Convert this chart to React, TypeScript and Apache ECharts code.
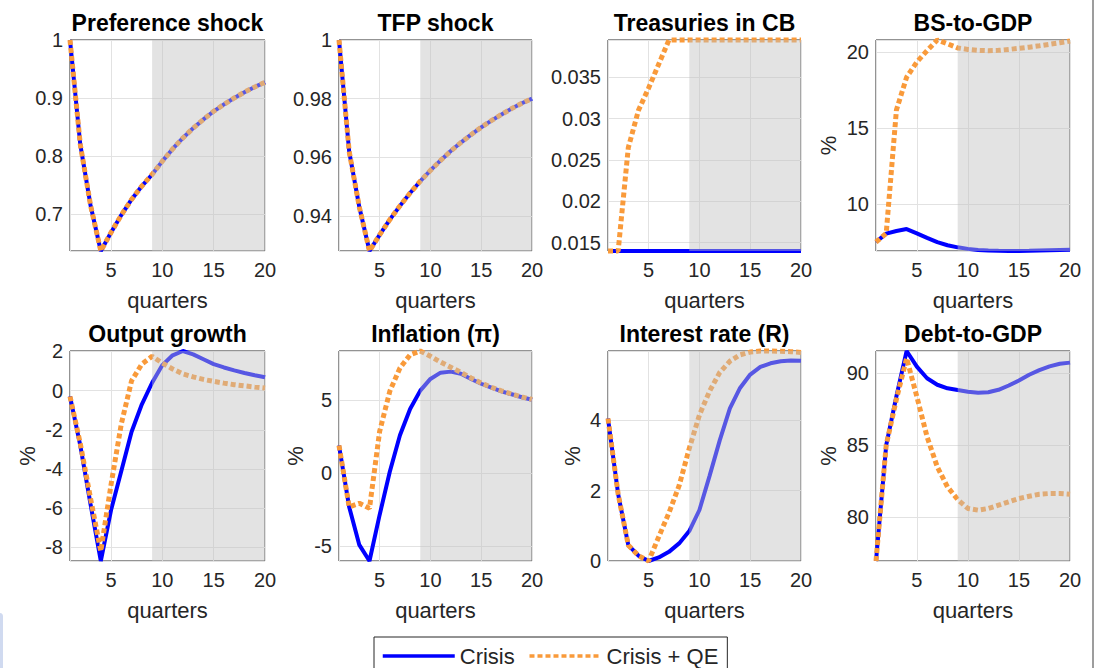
import React, { useEffect, useRef } from "react";
import * as echarts from "echarts";

// Horizon (quarters after the shock)
const quarters = [1, 2, 3, 4, 5, 6, 7, 8, 9, 10, 11, 12, 13, 14, 15, 16, 17, 18, 19, 20];

// Exogenous shock paths (identical in both scenarios)
const prefCrisis = [1.0, 0.82, 0.715, 0.636, 0.668, 0.698, 0.725, 0.748, 0.768, 0.791, 0.812, 0.831, 0.848, 0.863, 0.877, 0.889, 0.9, 0.91, 0.919, 0.927];
const prefQE = [1.0, 0.82, 0.715, 0.636, 0.668, 0.698, 0.725, 0.748, 0.768, 0.791, 0.812, 0.831, 0.848, 0.863, 0.877, 0.889, 0.9, 0.91, 0.919, 0.927];
const tfpCrisis = [1.0, 0.962, 0.943, 0.928, 0.9335, 0.9387, 0.9434, 0.9478, 0.9518, 0.9555, 0.9589, 0.9621, 0.965, 0.9677, 0.9702, 0.9725, 0.9746, 0.9766, 0.9784, 0.98];
const tfpQE = [1.0, 0.962, 0.943, 0.928, 0.9335, 0.9387, 0.9434, 0.9478, 0.9518, 0.9555, 0.9589, 0.9621, 0.965, 0.9677, 0.9702, 0.9725, 0.9746, 0.9766, 0.9784, 0.98];

// Central bank holdings and balance sheet
const treasCrisis = [0.014, 0.014, 0.014, 0.014, 0.014, 0.014, 0.014, 0.014, 0.014, 0.014, 0.014, 0.014, 0.014, 0.014, 0.014, 0.014, 0.014, 0.014, 0.014, 0.014];
const treasQE = [0.014, 0.014, 0.0265, 0.031, 0.0337, 0.0366, 0.0395, 0.0395, 0.0395, 0.0395, 0.0395, 0.0395, 0.0395, 0.0395, 0.0395, 0.0395, 0.0395, 0.0395, 0.0395, 0.0395];
const bsCrisis = [7.53, 8.08, 8.25, 8.38, 8.1, 7.8, 7.52, 7.32, 7.18, 7.08, 7.01, 6.97, 6.95, 6.94, 6.94, 6.95, 6.97, 6.99, 7.01, 7.03];
const bsQE = [7.53, 8.1, 16.2, 18.36, 19.35, 20.1, 20.8, 20.55, 20.28, 20.18, 20.12, 20.1, 20.12, 20.18, 20.25, 20.33, 20.42, 20.52, 20.62, 20.73];

// Macro responses
const outputCrisis = [-0.3, -2.8, -5.8, -8.7, -6.1, -4.1, -2.1, -0.7, 0.4, 1.3, 1.8, 2.02, 1.85, 1.6, 1.35, 1.18, 1.03, 0.9, 0.78, 0.68];
const outputQE = [-0.3, -2.7, -5.5, -8.2, -4.8, -1.7, 0.5, 1.35, 1.75, 1.4, 1.1, 0.85, 0.7, 0.57, 0.47, 0.38, 0.3, 0.24, 0.18, 0.13];
const inflCrisis = [1.9, -2.3, -4.9, -6.0, -2.85, 0.1, 2.6, 4.4, 5.65, 6.45, 6.88, 6.95, 6.8, 6.45, 6.12, 5.85, 5.6, 5.4, 5.2, 5.03];
const inflQE = [1.9, -2.3, -2.05, -2.4, 2.86, 5.6, 7.2, 8.1, 8.36, 8.0, 7.6, 7.25, 6.9, 6.52, 6.17, 5.88, 5.63, 5.42, 5.22, 5.05];
const rateCrisis = [4.05, 1.9, 0.45, 0.15, 0.0, 0.1, 0.26, 0.5, 0.85, 1.45, 2.42, 3.43, 4.34, 4.92, 5.3, 5.52, 5.62, 5.68, 5.7, 5.69];
const rateQE = [4.05, 1.9, 0.45, 0.15, 0.0, 0.69, 1.37, 2.14, 3.2, 4.15, 4.83, 5.36, 5.68, 5.86, 5.94, 5.97, 5.97, 5.96, 5.95, 5.93];
const debtCrisis = [76.93, 85.0, 88.4, 91.55, 90.46, 89.65, 89.2, 88.95, 88.83, 88.72, 88.65, 88.68, 88.85, 89.15, 89.5, 89.9, 90.22, 90.48, 90.66, 90.74];
const debtQE = [76.93, 85.0, 88.2, 91.05, 88.37, 85.58, 83.49, 82.09, 81.21, 80.59, 80.47, 80.59, 80.82, 81.05, 81.28, 81.44, 81.58, 81.63, 81.63, 81.58];

// Shaded window (quarters)
const shadeFrom = 9;
const shadeTo = 20;

const panels = [
  { title: "Preference shock", crisis: prefCrisis, qe: prefQE, step: 0.1, pct: false },
  { title: "TFP shock", crisis: tfpCrisis, qe: tfpQE, step: 0.02, pct: false },
  { title: "Treasuries in CB", crisis: treasCrisis, qe: treasQE, step: 0.005, pct: false },
  { title: "BS-to-GDP", crisis: bsCrisis, qe: bsQE, step: 5, pct: true },
  { title: "Output growth", crisis: outputCrisis, qe: outputQE, step: 2, pct: true },
  { title: "Inflation (\u03c0)", crisis: inflCrisis, qe: inflQE, step: 5, pct: true },
  { title: "Interest rate (R)", crisis: rateCrisis, qe: rateQE, step: 2, pct: true },
  { title: "Debt-to-GDP", crisis: debtCrisis, qe: debtQE, step: 5, pct: true },
];

// Subplot layout
const colLeft = [70, 339, 608, 876];
const colWidth = [195, 193, 193, 194];
const rowTop = [40, 351];
const rowHeight = [211, 210];
const titleY = [22.5, 334];
const pctOffset = [0, 0, 0, 48, 43, 44, 36, 48];

const FONT = '"Liberation Sans", Arial, Helvetica, sans-serif';
const BLUE = "#0000ff";
const ORANGE = "#f99a3a";
const INK = "#262626";
const SHADE = "rgba(192,192,192,0.45)";

const pairs = (ys: number[]) => quarters.map((q, i) => [q, ys[i]]);

const tickFormatter = (step: number) => (v: number) => {
  const r = v / step;
  if (Math.abs(r - Math.round(r)) > 1e-6) return "";
  return String(parseFloat(v.toFixed(6)));
};

function buildOption() {
  const grid: any[] = [];
  const xAxis: any[] = [];
  const yAxis: any[] = [];
  const series: any[] = [];
  const graphic: any[] = [];

  panels.forEach((p, i) => {
    const col = i % 4;
    const row = Math.floor(i / 4);
    const left = colLeft[col];
    const top = rowTop[row];
    const width = colWidth[col];
    const height = rowHeight[row];

    grid.push({
      left,
      top,
      width,
      height,
      show: true,
      borderColor: INK,
      borderWidth: 1,
      backgroundColor: "#ffffff",
      containLabel: false,
    });

    xAxis.push({
      type: "value",
      gridIndex: i,
      min: 1,
      max: 20,
      minInterval: 5,
      maxInterval: 5,
      axisLine: { show: false },
      axisTick: { show: false },
      splitLine: { show: true, lineStyle: { color: "#e2e2e2", width: 1 } },
      axisLabel: {
        formatter: tickFormatter(5),
        color: INK,
        fontSize: 20,
        fontFamily: FONT,
        margin: 9,
      },
      name: "quarters",
      nameLocation: "middle",
      nameGap: 38,
      nameTextStyle: { fontSize: 22, color: INK, fontFamily: FONT },
    });

    yAxis.push({
      type: "value",
      gridIndex: i,
      min: "dataMin",
      max: "dataMax",
      minInterval: p.step,
      maxInterval: p.step,
      axisLine: { show: false },
      axisTick: { show: false },
      splitLine: { show: true, lineStyle: { color: "#e2e2e2", width: 1 } },
      axisLabel: {
        formatter: tickFormatter(p.step),
        color: INK,
        fontSize: 20,
        fontFamily: FONT,
        margin: 7,
      },
    });

    series.push({
      type: "line",
      name: "Crisis",
      xAxisIndex: i,
      yAxisIndex: i,
      data: pairs(p.crisis),
      symbol: "none",
      clip: false,
      silent: true,
      z: 2,
      lineStyle: { color: BLUE, width: 4 },
      itemStyle: { color: BLUE },
    });
    series.push({
      type: "line",
      name: "Crisis + QE",
      xAxisIndex: i,
      yAxisIndex: i,
      data: pairs(p.qe),
      symbol: "none",
      clip: false,
      silent: true,
      z: 3,
      lineStyle: { color: ORANGE, width: 5, type: [5, 3] },
      itemStyle: { color: ORANGE },
    });
    // translucent window drawn above the lines
    series.push({
      type: "line",
      name: "window",
      xAxisIndex: i,
      yAxisIndex: i,
      data: pairs(p.crisis),
      symbol: "none",
      silent: true,
      z: 10,
      lineStyle: { opacity: 0 },
      markArea: {
        z: 10,
        silent: true,
        itemStyle: { color: SHADE },
        label: { show: false },
        data: [[{ xAxis: shadeFrom }, { xAxis: shadeTo }]],
      },
    });

    graphic.push({
      type: "text",
      x: left + width / 2,
      y: titleY[row],
      style: {
        text: p.title,
        fill: "#000000",
        font: `bold 23px ${FONT}`,
        textAlign: "center",
        textVerticalAlign: "middle",
        align: "center",
        verticalAlign: "middle",
      },
    });

    if (p.pct) {
      graphic.push({
        type: "text",
        x: left - pctOffset[i],
        y: top + height / 2,
        rotation: Math.PI / 2,
        style: {
          text: "%",
          fill: INK,
          font: `22px ${FONT}`,
          textAlign: "center",
          textVerticalAlign: "middle",
          align: "center",
          verticalAlign: "middle",
        },
      });
    }
  });

  // window frame edges
  graphic.push({
    type: "rect",
    shape: { x: 1092, y: 0, width: 2, height: 668 },
    style: { fill: "#9d9d9d" },
  });
  graphic.push({
    type: "rect",
    shape: { x: -4, y: 613, width: 7, height: 60, r: 4 },
    style: { fill: "#d0daf0" },
  });

  return {
    animation: false,
    backgroundColor: "#ffffff",
    grid,
    xAxis,
    yAxis,
    series,
    graphic,
    legend: {
      data: ["Crisis", "Crisis + QE"],
      left: 374,
      top: 637,
      orient: "horizontal",
      itemWidth: 72,
      itemHeight: 14,
      itemGap: 13,
      padding: [8, 9, 8, 7],
      borderColor: INK,
      borderWidth: 1,
      backgroundColor: "#ffffff",
      selectedMode: false,
      itemStyle: { opacity: 0 },
      lineStyle: { width: 3.5 },
      textStyle: { fontSize: 22, color: INK, fontFamily: FONT },
    },
  };
}

export default function App() {
  const ref = useRef<HTMLDivElement>(null);

  useEffect(() => {
    if (!ref.current) return;
    const chart = echarts.init(ref.current, undefined, { renderer: "svg" });
    chart.setOption(buildOption() as any);
    return () => chart.dispose();
  }, []);

  return (
    <div
      ref={ref}
      style={{ position: "absolute", left: 0, top: 0, width: 1110, height: 668, background: "#ffffff" }}
    />
  );
}
